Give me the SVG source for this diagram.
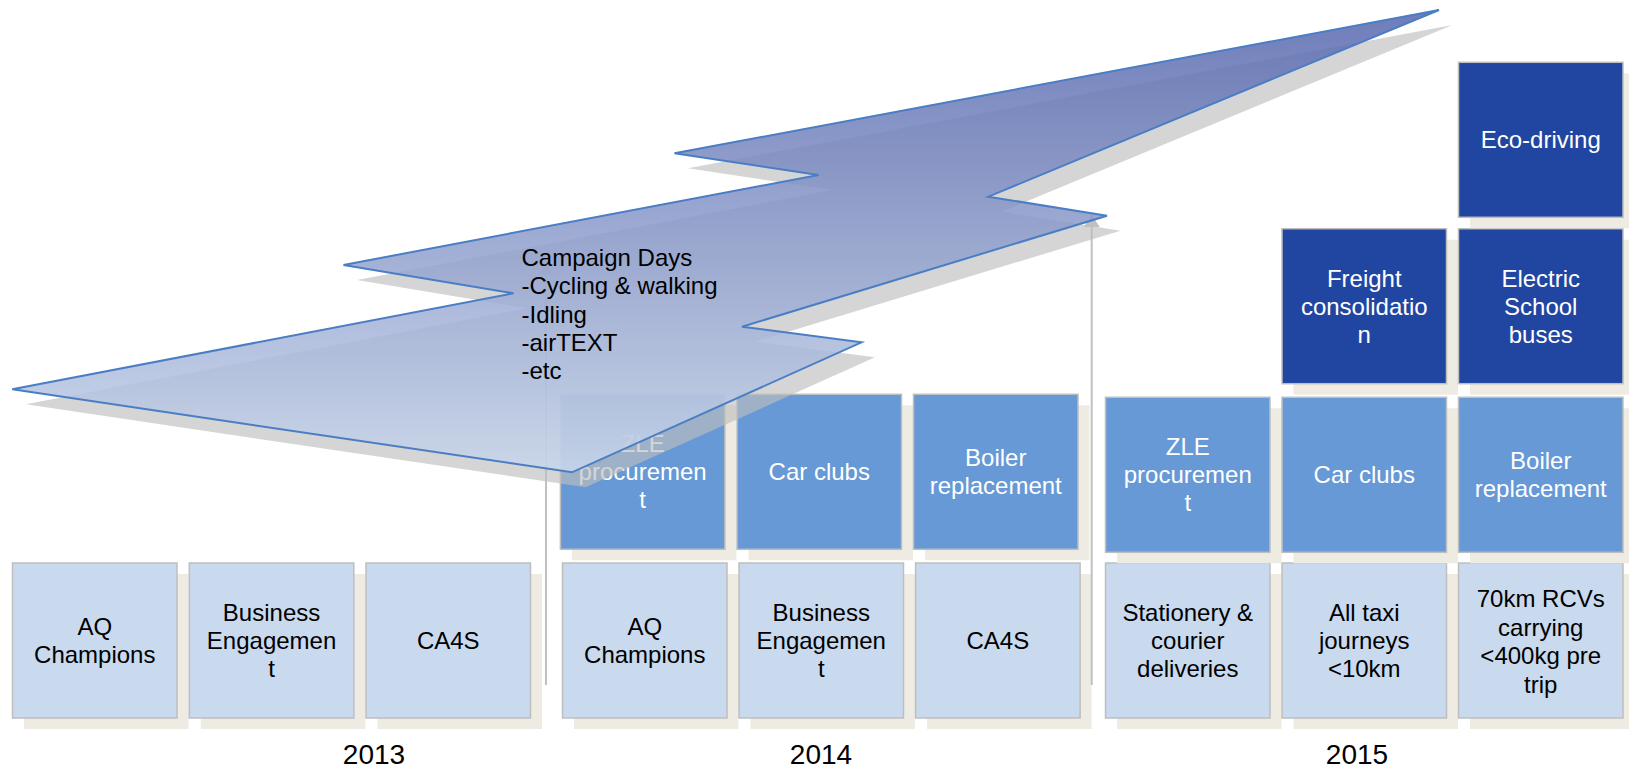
<svg xmlns="http://www.w3.org/2000/svg" width="1629" height="770" viewBox="0 0 1629 770">
<defs>
<style>
.sh{fill:#EEEBE3}
.lt{fill:#C9D9EE;stroke:#BEBEBE;stroke-width:1.5}
.md{fill:#6699D5;stroke:#BEBEBE;stroke-width:1.5}
.dk{fill:#2146A1;stroke:#BEBEBE;stroke-width:1.5}
text{font-family:"Liberation Sans",Arial,sans-serif;font-size:24px}
.tb{fill:#000;text-anchor:middle}
.tw{fill:#FFF;text-anchor:middle}
.yr{font-size:28px;fill:#000;text-anchor:middle}
.cn{stroke:#C0C0C0;stroke-width:2;fill:none;marker-end:url(#ah)}
.ct{fill:#000}
</style>
<marker id="ah" viewBox="0 0 12 16" refX="12" refY="8" markerWidth="12" markerHeight="16" markerUnits="userSpaceOnUse" orient="auto">
<path d="M0,0 L12,8 L0,16 z" fill="#C0C0C0"/>
</marker>
<linearGradient id="g" gradientUnits="userSpaceOnUse" x1="0" y1="10" x2="0" y2="472">
<stop offset="0" stop-color="#5565AD"/>
<stop offset="1" stop-color="#C8D7EC"/>
</linearGradient>
</defs>

<!-- 2013 bottom -->
<g id="n2013-aq">
<rect class="sh" x="24" y="574" width="164.5" height="155"/>
<rect class="lt" x="12.5" y="563" width="164.5" height="155"/>
<text class="tb"><tspan x="94.75" y="634.9">AQ</tspan><tspan x="94.75" y="662.9">Champions</tspan></text>
</g>
<g id="n2013-business">
<rect class="sh" x="200.8" y="574" width="164.5" height="155"/>
<rect class="lt" x="189.3" y="563" width="164.5" height="155"/>
<text class="tb"><tspan x="271.55" y="620.9">Business</tspan><tspan x="271.55" y="648.9">Engagemen</tspan><tspan x="271.55" y="676.9">t</tspan></text>
</g>
<g id="n2013-ca4s">
<rect class="sh" x="377.5" y="574" width="164.5" height="155"/>
<rect class="lt" x="366" y="563" width="164.5" height="155"/>
<text class="tb" x="448.25" y="648.9">CA4S</text>
</g>

<!-- 2014 bottom -->
<g id="n2014-aq">
<rect class="sh" x="574" y="574" width="164.5" height="155"/>
<rect class="lt" x="562.5" y="563" width="164.5" height="155"/>
<text class="tb"><tspan x="644.75" y="634.9">AQ</tspan><tspan x="644.75" y="662.9">Champions</tspan></text>
</g>
<g id="n2014-business">
<rect class="sh" x="750.5" y="574" width="164.5" height="155"/>
<rect class="lt" x="739" y="563" width="164.5" height="155"/>
<text class="tb"><tspan x="821.25" y="620.9">Business</tspan><tspan x="821.25" y="648.9">Engagemen</tspan><tspan x="821.25" y="676.9">t</tspan></text>
</g>
<g id="n2014-ca4s">
<rect class="sh" x="927.1" y="574" width="164.5" height="155"/>
<rect class="lt" x="915.6" y="563" width="164.5" height="155"/>
<text class="tb" x="997.85" y="648.9">CA4S</text>
</g>

<!-- 2014 top -->
<g id="n2014-zle">
<rect class="sh" x="571.9" y="405.3" width="164.5" height="155"/>
<rect class="md" x="560.4" y="394.3" width="164.5" height="155"/>
<text class="tw"><tspan x="642.65" y="452.2">ZLE</tspan><tspan x="642.65" y="480.2">procuremen</tspan><tspan x="642.65" y="508.2">t</tspan></text>
</g>
<g id="n2014-carclubs">
<rect class="sh" x="748.5" y="405.3" width="164.5" height="155"/>
<rect class="md" x="737" y="394.3" width="164.5" height="155"/>
<text class="tw" x="819.25" y="480.2">Car clubs</text>
</g>
<g id="n2014-boiler">
<rect class="sh" x="925" y="405.3" width="164.5" height="155"/>
<rect class="md" x="913.5" y="394.3" width="164.5" height="155"/>
<text class="tw"><tspan x="995.75" y="466.2">Boiler</tspan><tspan x="995.75" y="494.2">replacement</tspan></text>
</g>

<!-- 2015 bottom -->
<g id="n2015-stationery">
<rect class="sh" x="1117" y="574" width="164.5" height="155"/>
<rect class="lt" x="1105.5" y="563" width="164.5" height="155"/>
<text class="tb"><tspan x="1187.75" y="620.9">Stationery &amp;</tspan><tspan x="1187.75" y="648.9">courier</tspan><tspan x="1187.75" y="676.9">deliveries</tspan></text>
</g>
<g id="n2015-taxi">
<rect class="sh" x="1293.5" y="574" width="164.5" height="155"/>
<rect class="lt" x="1282" y="563" width="164.5" height="155"/>
<text class="tb"><tspan x="1364.25" y="620.9">All taxi</tspan><tspan x="1364.25" y="648.9">journeys</tspan><tspan x="1364.25" y="676.9">&lt;10km</tspan></text>
</g>
<g id="n2015-rcv">
<rect class="sh" x="1470" y="574" width="164.5" height="155"/>
<rect class="lt" x="1458.5" y="563" width="164.5" height="155"/>
<text class="tb"><tspan x="1540.75" y="607.4">70km RCVs</tspan><tspan x="1540.75" y="635.9">carrying</tspan><tspan x="1540.75" y="664.4">&lt;400kg pre</tspan><tspan x="1540.75" y="692.9">trip</tspan></text>
</g>

<!-- 2015 top -->
<g id="n2015-zle">
<rect class="sh" x="1117" y="408.3" width="164.5" height="155"/>
<rect class="md" x="1105.5" y="397.3" width="164.5" height="155"/>
<text class="tw"><tspan x="1187.75" y="455.2">ZLE</tspan><tspan x="1187.75" y="483.2">procuremen</tspan><tspan x="1187.75" y="511.2">t</tspan></text>
</g>
<g id="n2015-carclubs">
<rect class="sh" x="1293.5" y="408.3" width="164.5" height="155"/>
<rect class="md" x="1282" y="397.3" width="164.5" height="155"/>
<text class="tw" x="1364.25" y="483.2">Car clubs</text>
</g>
<g id="n2015-boiler">
<rect class="sh" x="1470" y="408.3" width="164.5" height="155"/>
<rect class="md" x="1458.5" y="397.3" width="164.5" height="155"/>
<text class="tw"><tspan x="1540.75" y="469.2">Boiler</tspan><tspan x="1540.75" y="497.2">replacement</tspan></text>
</g>

<!-- 2015 upper -->
<g id="n2015-freight">
<rect class="sh" x="1293.5" y="239.7" width="164.5" height="155"/>
<rect class="dk" x="1282" y="228.7" width="164.5" height="155"/>
<text class="tw"><tspan x="1364.25" y="286.6">Freight</tspan><tspan x="1364.25" y="314.6">consolidatio</tspan><tspan x="1364.25" y="342.6">n</tspan></text>
</g>
<g id="n2015-electric">
<rect class="sh" x="1470" y="239.7" width="164.5" height="155"/>
<rect class="dk" x="1458.5" y="228.7" width="164.5" height="155"/>
<text class="tw"><tspan x="1540.75" y="286.6">Electric</tspan><tspan x="1540.75" y="314.6">School</tspan><tspan x="1540.75" y="342.6">buses</tspan></text>
</g>
<g id="n2015-eco">
<rect class="sh" x="1470" y="73.3" width="164.5" height="155"/>
<rect class="dk" x="1458.5" y="62.3" width="164.5" height="155"/>
<text class="tw" x="1540.75" y="148.2">Eco-driving</text>
</g>

<!-- connectors -->
<g id="connectors">
<line class="cn" x1="546" y1="685" x2="546" y2="263"/>
<line class="cn" x1="1091.7" y1="685" x2="1091.7" y2="215"/>
</g>

<!-- campaign arrow -->
<g id="campaign">
<polygon points="12.3,389.3 513.5,293.3 343.5,265 818.5,175 674.5,153.3 1439,10 988.3,196.7 1107,215.7 742,326.7 861.5,342.3 572,472.3" transform="translate(13.5,15)" fill="#BFBFBF" fill-opacity="0.65"/>
<polygon points="12.3,389.3 513.5,293.3 343.5,265 818.5,175 674.5,153.3 1439,10 988.3,196.7 1107,215.7 742,326.7 861.5,342.3 572,472.3" fill="url(#g)" fill-opacity="0.85" stroke="#4A7EC4" stroke-width="2" stroke-linejoin="miter"/>
<text class="ct"><tspan x="521.5" y="266">Campaign Days</tspan><tspan x="521.5" y="294.3">-Cycling &amp; walking</tspan><tspan x="521.5" y="322.6">-Idling</tspan><tspan x="521.5" y="350.9">-airTEXT</tspan><tspan x="521.5" y="379.2">-etc</tspan></text>
</g>

<!-- year labels -->
<g id="years">
<text class="yr" x="374" y="764">2013</text>
<text class="yr" x="821" y="764">2014</text>
<text class="yr" x="1357" y="764">2015</text>
</g>
</svg>
